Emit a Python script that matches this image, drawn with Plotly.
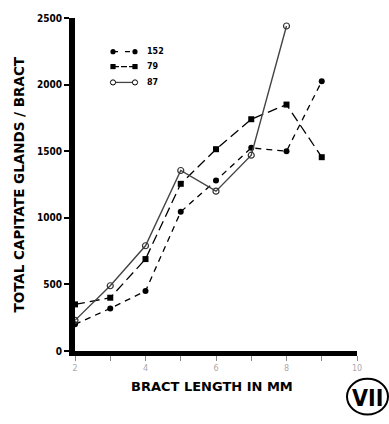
import plotly.graph_objects as go

bract_mm = [2, 3, 4, 5, 6, 7, 8, 9]
s152 = [200, 320, 450, 1045, 1280, 1525, 1500, 2025]
s79 = [350, 400, 690, 1255, 1515, 1740, 1850, 1455]
s87_x = [2, 3, 4, 5, 6, 7, 8]
s87 = [230, 490, 790, 1355, 1200, 1470, 2440]
x_ticks = [2, 3, 4, 5, 6, 7, 8, 9, 10]
x_ticktext = ["2", "", "4", "", "6", "", "8", "", "10"]
y_ticks = [0, 500, 1000, 1500, 2000, 2500]
legend_names = ["152", "79", "87"]

W, H = 389, 424
L, R, T, B = 75, 32, 15, 73
pw, ph = W - L - R, H - T - B

def px(x):
    return (x - L) / pw

def py(y):
    return (H - B - y) / ph

styles = [
    dict(line=dict(color="black", width=1.3, dash="6px,5px"),
         marker=dict(symbol="circle", size=6, color="black")),
    dict(line=dict(color="black", width=1.3, dash="10px,5px"),
         marker=dict(symbol="square", size=6, color="black")),
    dict(line=dict(color="#444444", width=1.4),
         marker=dict(symbol="circle-open", size=6, color="#333333", line=dict(width=1.2))),
]

fig = go.Figure()
fig.add_trace(go.Scatter(x=bract_mm, y=s152, name=legend_names[0], mode="lines+markers",
                         cliponaxis=False, **styles[0]))
fig.add_trace(go.Scatter(x=bract_mm, y=s79, name=legend_names[1], mode="lines+markers",
                         cliponaxis=False, **styles[1]))
fig.add_trace(go.Scatter(x=s87_x, y=s87, name=legend_names[2], mode="lines+markers",
                         cliponaxis=False, **styles[2]))

# manual legend (line segment with a marker at both ends)
shapes = []
annotations = []
rows_y = [49, 64, 80]
x_a, x_b = 113, 135
dashes = ["5px,7px", "6px,2px", "solid"]
for i, (name, yy) in enumerate(zip(legend_names, rows_y)):
    shapes.append(dict(type="line", xref="paper", yref="paper",
                       x0=px(x_a), x1=px(x_b), y0=py(yy), y1=py(yy),
                       line=dict(color="black" if i < 2 else "#444444", width=1.3, dash=dashes[i])))
    for xc in (x_a, x_b):
        r = 2.6
        if i == 1:
            shapes.append(dict(type="rect", xref="paper", yref="paper",
                               x0=px(xc - r), x1=px(xc + r), y0=py(yy - r), y1=py(yy + r),
                               fillcolor="black", line=dict(width=0)))
        else:
            shapes.append(dict(type="circle", xref="paper", yref="paper",
                               x0=px(xc - r), x1=px(xc + r), y0=py(yy - r), y1=py(yy + r),
                               fillcolor="black" if i == 0 else "white",
                               line=dict(color="black", width=1 if i == 2 else 0)))
    annotations.append(dict(text=name, xref="paper", yref="paper", x=px(145), y=py(yy),
                            xanchor="left", yanchor="middle", showarrow=False,
                            font=dict(family="DejaVu Sans", size=8, weight="bold", color="black")))

annotations += [
    dict(text="TOTAL CAPITATE GLANDS / BRACT", xref="paper", yref="paper",
         x=px(18), y=py(183), xanchor="center", yanchor="middle", textangle=-90, showarrow=False,
         font=dict(family="DejaVu Sans", size=13.5, weight="bold", color="black")),
    dict(text="BRACT LENGTH IN MM", xref="paper", yref="paper",
         x=px(212), y=py(387), xanchor="center", yanchor="middle", showarrow=False,
         font=dict(family="DejaVu Sans", size=13, weight="bold", color="black")),
    dict(text="VII", xref="paper", yref="paper",
         x=px(367.5), y=py(398), xanchor="center", yanchor="middle", showarrow=False,
         font=dict(family="DejaVu Sans Condensed, Roboto, Liberation Sans", size=23,
                   weight="bold", color="black")),
]
shapes.append(dict(type="circle", xref="paper", yref="paper",
                   x0=px(347), x1=px(388), y0=py(379), y1=py(415),
                   line=dict(color="black", width=2)))

fig.update_layout(
    width=W, height=H,
    margin=dict(l=L, r=R, t=T, b=B),
    paper_bgcolor="white", plot_bgcolor="white",
    showlegend=False,
    xaxis=dict(range=[2, 10], tickvals=x_ticks, ticktext=x_ticktext,
               showline=True, linecolor="black", linewidth=5,
               ticks="outside", ticklen=5, tickwidth=1, tickcolor="#888888",
               tickfont=dict(family="DejaVu Sans", size=8, color="#aaaaaa"),
               showgrid=False, zeroline=False),
    yaxis=dict(range=[0, 2500], tickvals=y_ticks,
               showline=True, linecolor="black", linewidth=6,
               ticks="outside", ticklen=5, tickwidth=1.5, tickcolor="black",
               tickfont=dict(family="DejaVu Sans Condensed, Roboto, Liberation Sans", size=10,
                             color="black", weight="bold"),
               showgrid=False, zeroline=False),
    font=dict(family="DejaVu Sans", color="black"),
    annotations=annotations,
    shapes=shapes,
)

fig.write_html("out.html")
